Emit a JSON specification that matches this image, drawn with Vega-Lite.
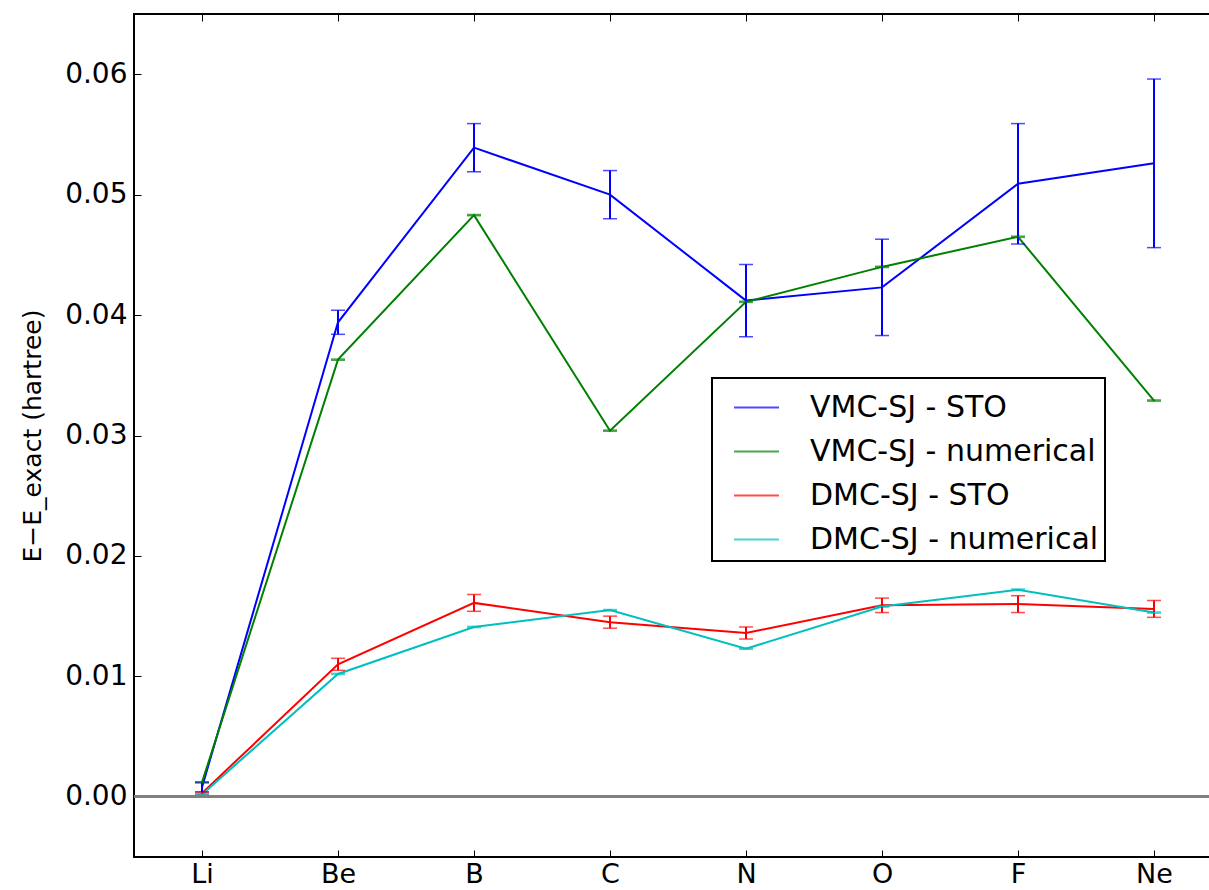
{
  "$schema": "https://vega.github.io/schema/vega-lite/v6.json",
  "width": 1088,
  "height": 843,
  "autosize": {"type": "none"},
  "padding": {"left": 134, "top": 14, "right": 0, "bottom": 33},
  "background": "white",
  "config": {
    "view": {"stroke": "black", "strokeWidth": 2},
    "font": "DejaVu Sans",
    "legend": {"strokeWidth": 2}
  },
  "data": {
    "values": [
      {"el": "Li", "series": "VMC-SJ - STO", "v": 0.0008, "err": 0.0004},
      {"el": "Be", "series": "VMC-SJ - STO", "v": 0.0394, "err": 0.0010},
      {"el": "B", "series": "VMC-SJ - STO", "v": 0.0539, "err": 0.0020},
      {"el": "C", "series": "VMC-SJ - STO", "v": 0.0500, "err": 0.0020},
      {"el": "N", "series": "VMC-SJ - STO", "v": 0.0412, "err": 0.0030},
      {"el": "O", "series": "VMC-SJ - STO", "v": 0.0423, "err": 0.0040},
      {"el": "F", "series": "VMC-SJ - STO", "v": 0.0509, "err": 0.0050},
      {"el": "Ne", "series": "VMC-SJ - STO", "v": 0.0526, "err": 0.0070},
      {"el": "Li", "series": "VMC-SJ - numerical", "v": 0.0012, "err": 0.00005},
      {"el": "Be", "series": "VMC-SJ - numerical", "v": 0.0363, "err": 0.00005},
      {"el": "B", "series": "VMC-SJ - numerical", "v": 0.0483, "err": 0.00005},
      {"el": "C", "series": "VMC-SJ - numerical", "v": 0.0304, "err": 0.00005},
      {"el": "N", "series": "VMC-SJ - numerical", "v": 0.0411, "err": 0.00005},
      {"el": "O", "series": "VMC-SJ - numerical", "v": 0.0440, "err": 0.00005},
      {"el": "F", "series": "VMC-SJ - numerical", "v": 0.0465, "err": 0.00005},
      {"el": "Ne", "series": "VMC-SJ - numerical", "v": 0.0329, "err": 0.00005},
      {"el": "Li", "series": "DMC-SJ - STO", "v": 0.0003, "err": 0.0001},
      {"el": "Be", "series": "DMC-SJ - STO", "v": 0.0110, "err": 0.0005},
      {"el": "B", "series": "DMC-SJ - STO", "v": 0.0161, "err": 0.0007},
      {"el": "C", "series": "DMC-SJ - STO", "v": 0.0145, "err": 0.0005},
      {"el": "N", "series": "DMC-SJ - STO", "v": 0.0136, "err": 0.0005},
      {"el": "O", "series": "DMC-SJ - STO", "v": 0.0159, "err": 0.0006},
      {"el": "F", "series": "DMC-SJ - STO", "v": 0.0160, "err": 0.0007},
      {"el": "Ne", "series": "DMC-SJ - STO", "v": 0.0156, "err": 0.0007},
      {"el": "Li", "series": "DMC-SJ - numerical", "v": 0.0002, "err": 0.00005},
      {"el": "Be", "series": "DMC-SJ - numerical", "v": 0.0102, "err": 0.00005},
      {"el": "B", "series": "DMC-SJ - numerical", "v": 0.0141, "err": 0.00005},
      {"el": "C", "series": "DMC-SJ - numerical", "v": 0.0155, "err": 0.00005},
      {"el": "N", "series": "DMC-SJ - numerical", "v": 0.0123, "err": 0.00005},
      {"el": "O", "series": "DMC-SJ - numerical", "v": 0.0158, "err": 0.00005},
      {"el": "F", "series": "DMC-SJ - numerical", "v": 0.0172, "err": 0.00005},
      {"el": "Ne", "series": "DMC-SJ - numerical", "v": 0.0153, "err": 0.00005}
    ]
  },
  "resolve": {"axis": {"x": "independent"}},
  "layer": [
    {
      "mark": {"type": "rule", "color": "#808080", "strokeWidth": 2},
      "encoding": {"y": {"datum": 0, "type": "quantitative"}}
    },
    {
      "mark": {"type": "line", "strokeWidth": 2},
      "encoding": {
        "x": {
          "field": "el", "type": "ordinal",
          "sort": ["Li", "Be", "B", "C", "N", "O", "F", "Ne"],
          "scale": {"type": "point", "padding": 0.5},
          "axis": {
            "orient": "bottom", "title": null, "labelAngle": 0,
            "labelFont": "DejaVu Sans", "labelFontSize": 27, "labelColor": "black",
            "tickSize": -7, "tickColor": "black", "tickWidth": 1,
            "labelPadding": 11, "domain": false, "grid": false
          }
        },
        "y": {
          "field": "v", "type": "quantitative",
          "title": "E−E_exact (hartree)",
          "scale": {"domain": [-0.005, 0.065], "nice": false, "zero": false},
          "axis": {
            "values": [0, 0.01, 0.02, 0.03, 0.04, 0.05, 0.06],
            "format": ".2f", "grid": false, "domain": false,
            "labelFont": "DejaVu Sans", "labelFontSize": 28, "labelColor": "black",
            "tickSize": -7, "tickColor": "black", "tickWidth": 1,
            "labelPadding": 14,
            "titleFont": "DejaVu Sans", "titleFontSize": 25, "titleFontWeight": "normal",
            "titleColor": "black", "titlePadding": 19
          }
        },
        "color": {
          "field": "series", "type": "nominal",
          "scale": {
            "domain": ["VMC-SJ - STO", "VMC-SJ - numerical", "DMC-SJ - STO", "DMC-SJ - numerical"],
            "range": ["#0000ff", "#008000", "#ff0000", "#00bfbf"]
          },
          "legend": {
            "title": null, "orient": "none", "legendX": 578, "legendY": 364,
            "direction": "vertical",
            "strokeColor": "black", "fillColor": "white", "padding": 6,
            "symbolType": "stroke", "symbolSize": 2025, "symbolStrokeWidth": 2,
            "symbolOffset": 15,
            "labelFont": "DejaVu Sans", "labelFontSize": 30, "labelColor": "black",
            "labelOffset": 30, "rowPadding": 5, "labelLimit": 500
          }
        }
      }
    },
    {
      "mark": {"type": "errorbar", "ticks": {"size": 14, "thickness": 1.5}, "rule": {"strokeWidth": 2}},
      "encoding": {
        "x": {"field": "el", "type": "ordinal", "sort": ["Li", "Be", "B", "C", "N", "O", "F", "Ne"],
              "axis": {"orient": "top", "title": null, "labels": false, "domain": false,
                       "tickSize": -7, "tickColor": "black", "tickWidth": 1}},
        "y": {"field": "v", "type": "quantitative", "title": "E−E_exact (hartree)"},
        "yError": {"field": "err"},
        "color": {"field": "series", "type": "nominal"}
      }
    }
  ]
}
